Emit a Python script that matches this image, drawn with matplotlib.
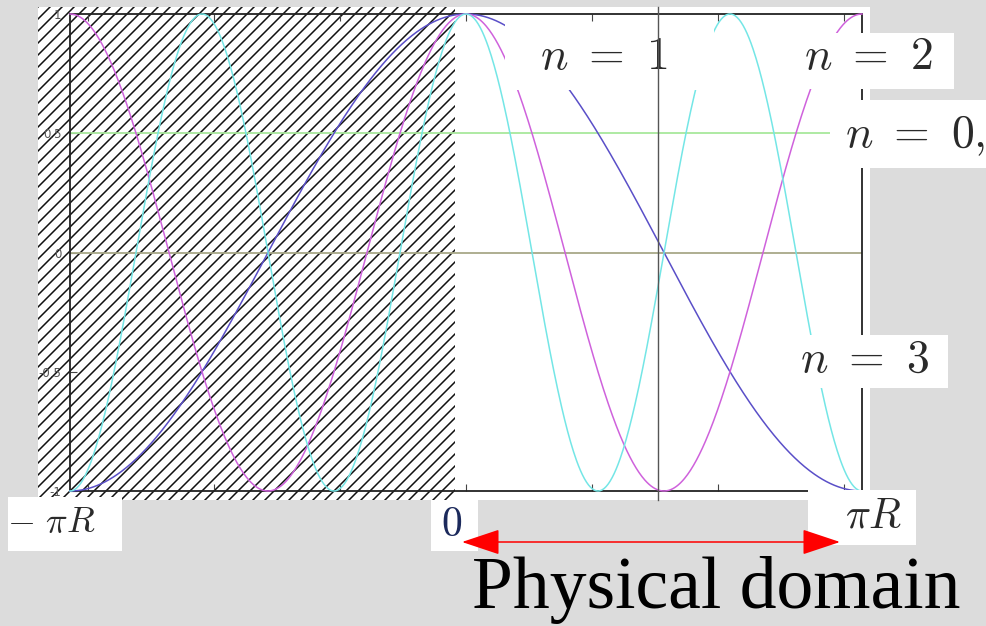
import numpy as np
import matplotlib
matplotlib.use('Agg')
import matplotlib.pyplot as plt
from matplotlib.patches import Rectangle

plt.rcParams['mathtext.fontset'] = 'cm'
plt.rcParams['axes.unicode_minus'] = False

# modes cos(n x / R) on [-pi R, pi R], with R = 1
modes = [1, 2, 3]
mode_colors = ['#5a4fc8', '#cf62dc', '#74e6e6']
zero_mode_level = 0.5
zero_mode_color = '#a8e89c'
origin_x = 1.52  # where the inner vertical axis sits

xtick_vals = [-3, -2, -1, 0, 1, 2, 3]
ytick_vals = [-1, -0.5, 0, 0.5, 1]
ytick_labels = ['-1', '-0.5', '0', '0.5', '1']

# label text, centre (px), white box (x0, y0, x1, y1) in px, font size
labels = [
    (r'$n\ =\ 1$', 604, 57, (505, 22, 714, 90), 33),
    (r'$n\ =\ 2$', 868, 57, (800, 33, 954, 89), 33),
    (r'$n\ =\ 0,$', 915, 136, (830, 100, 986, 168), 33),
    (r'$n\ =\ 3$', 864, 359, (797, 335, 948, 388), 33),
    (r'$-\ \pi R$', 51, 522, (8, 497, 122, 551), 26),
    (r'$\pi R$', 874, 516, (808, 490, 916, 545), 30),
]

fig = plt.figure(figsize=(9.86, 6.26), dpi=100, facecolor='#dcdcdc')

# pixel-space backdrop: white sheet plus the hatched x < 0 half
bg = fig.add_axes([0, 0, 1, 1], zorder=0)
bg.set_xlim(0, 986)
bg.set_ylim(626, 0)
bg.axis('off')
bg.add_patch(Rectangle((38, 7), 832, 493, fc='white', ec='none'))
hatch_clip = Rectangle((38, 7), 417, 493, transform=bg.transData)
for c in np.arange(38 - 493, 455, 12):
    ln, = bg.plot([c, c + 493], [500, 7], color='#111111', lw=1.1)
    ln.set_clip_path(hatch_clip)

ax = fig.add_axes([70 / 986, (626 - 491) / 626, 792 / 986, 477 / 626], zorder=1)
ax.set_facecolor('none')

x = np.linspace(-np.pi, np.pi, 800)
ax.axhline(0, color='#a8a888', lw=1.3, zorder=2)
ax.axhline(zero_mode_level, color=zero_mode_color, lw=1.3, zorder=2)
for n, col in zip(modes, mode_colors):
    ax.plot(x, np.cos(n * x), color=col, lw=1.1, clip_on=False, zorder=3)

ax.axvline(origin_x, ymin=-9 / 477, ymax=484 / 477, color='#555555', lw=1.0,
           clip_on=False, zorder=6)

ax.set_xlim(-np.pi, np.pi)
ax.set_ylim(-1, 1)
ax.set_xticks(xtick_vals)
ax.tick_params(axis='x', direction='in', top=True, bottom=True, labelbottom=False,
               length=5, width=0.8, color='#444444')
ax.set_yticks(ytick_vals, ytick_labels)
ax.tick_params(axis='y', direction='in', left=True, right=False, length=5, width=0.8,
               color='#444444', labelsize=8.5, labelcolor='#555555', pad=6)
for s in ax.spines.values():
    s.set_linewidth(1.3)
    s.set_color('#222222')

for text, cx, cy, (x0, y0, x1, y1), size in labels:
    ax.add_patch(Rectangle((x0, y0), x1 - x0, y1 - y0, transform=bg.transData,
                           fc='white', ec='none', clip_on=False, zorder=4))
    ax.text(cx, cy, text, transform=bg.transData, ha='center', va='center',
            fontsize=size, color='#2a2a2a', clip_on=False, zorder=5)

# origin label
ax.add_patch(Rectangle((431, 500), 47, 51, transform=bg.transData,
                       fc='white', ec='none', clip_on=False, zorder=4))
ax.text(452, 524, r'$0$', transform=bg.transData, ha='center', va='center',
        fontsize=30, color='#1c2a5c', clip_on=False, zorder=5)

# physical domain arrow
ax.annotate('', xy=(462, 542), xytext=(840, 542),
            xycoords=bg.transData, textcoords=bg.transData,
            arrowprops=dict(arrowstyle='<|-|>,head_length=2.4,head_width=0.8',
                            mutation_scale=10, color='red', lw=1.1,
                            shrinkA=0, shrinkB=0),
            annotation_clip=False, zorder=5)
ax.text(472, 608, 'Physical domain', transform=bg.transData, fontsize=53,
        family='Liberation Serif', ha='left', va='baseline', color='black',
        clip_on=False, zorder=5)

fig.savefig('out.png', dpi=100, facecolor=fig.get_facecolor())
